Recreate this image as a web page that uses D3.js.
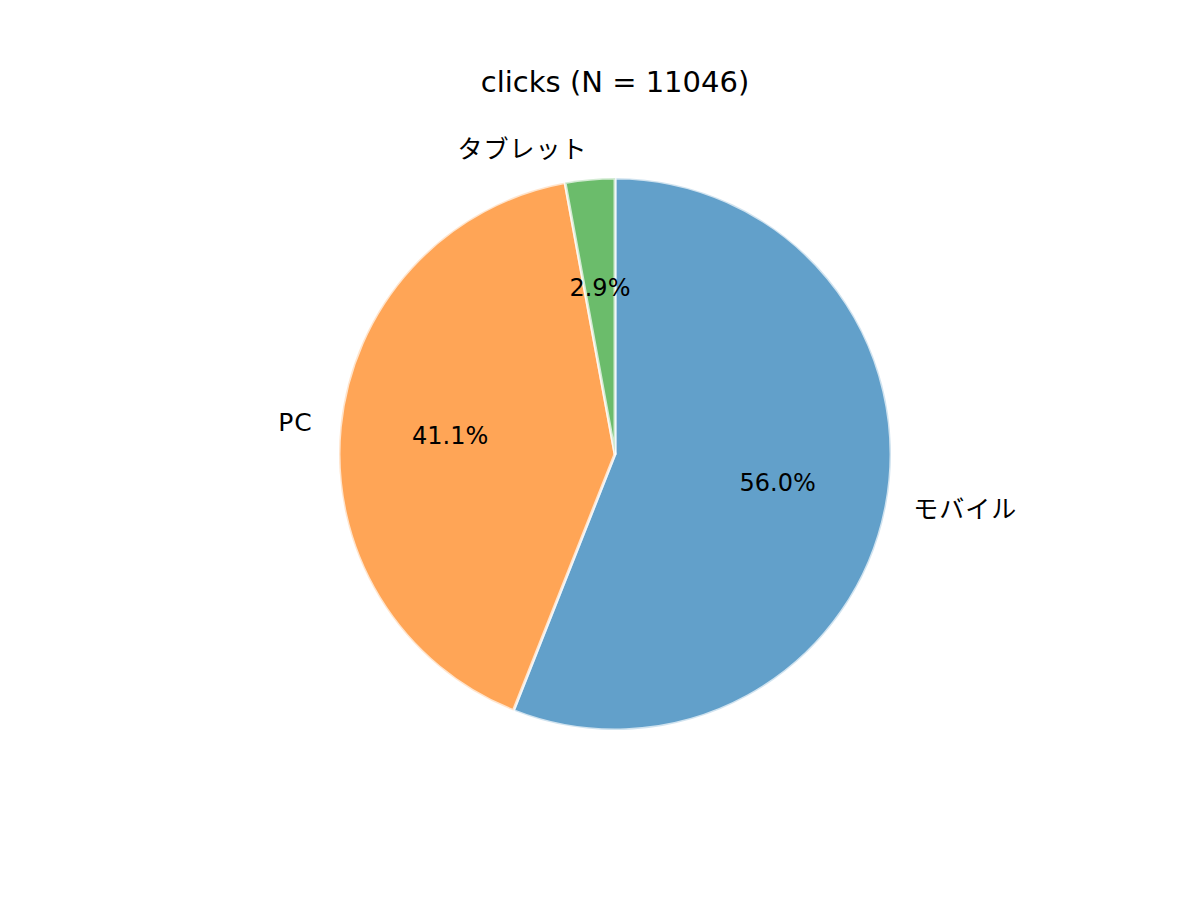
<!DOCTYPE html>
<html>
<head>
<meta charset="utf-8">
<script src="https://cdn.jsdelivr.net/npm/d3@7"></script>
<style>
  body { margin: 0; background: #fff; }
  text { font-family: "DejaVu Sans", "Noto Sans CJK JP", sans-serif; fill: #000; }
</style>
</head>
<body>
<div id="chart"></div>
<script>
var width = 1200;
var height = 900;

var labels = ['モバイル', 'PC', 'タブレット'];
var counts = [6186, 4540, 320];
var colors = ['#1f77b4', '#ff7f0e', '#2ca02c'];
var titleText = 'clicks (N = 11046)';

var cx = 615;
var cy = 454;
var radius = 276;

window.onload = function() {
    render();
};

function render() {
    var svg = d3.select('#chart').append('svg')
        .attr('width', width)
        .attr('height', height);

    var total = d3.sum(counts);
    var data = labels.map(function(d, i) {
        return { label: d, value: counts[i], color: colors[i] };
    });

    // clockwise from 12 o'clock, keeping input order
    var pie = d3.pie()
        .value(function(d) { return d.value; })
        .sort(null);
    var arcs = pie(data);

    var arc = d3.arc().innerRadius(0).outerRadius(radius);

    var g = svg.append('g')
        .attr('transform', 'translate(' + cx + ',' + cy + ')');

    g.selectAll('path.slice')
        .data(arcs)
        .enter().append('path')
        .attr('class', 'slice')
        .attr('d', arc)
        .attr('fill', function(d) { return d.data.color; })
        .attr('fill-opacity', 0.7)
        .attr('stroke', '#fff')
        .attr('stroke-opacity', 0.7)
        .attr('stroke-width', 3)
        .attr('stroke-linejoin', 'round');

    function midPoint(d, dist) {
        var a = (d.startAngle + d.endAngle) / 2;
        return [Math.sin(a) * radius * dist, -Math.cos(a) * radius * dist];
    }

    // category labels outside the pie
    g.selectAll('text.label')
        .data(arcs)
        .enter().append('text')
        .attr('class', 'label')
        .attr('x', function(d) { return midPoint(d, 1.1)[0]; })
        .attr('y', function(d) { return midPoint(d, 1.1)[1] - 2; })
        .attr('dy', '0.35em')
        .attr('text-anchor', function(d) { return midPoint(d, 1.1)[0] > 0 ? 'start' : 'end'; })
        .style('font-size', '25px')
        .style('letter-spacing', '1px')
        .text(function(d) { return d.data.label; });

    // percentages inside
    g.selectAll('text.pct')
        .data(arcs)
        .enter().append('text')
        .attr('class', 'pct')
        .attr('x', function(d) { return midPoint(d, 0.6)[0]; })
        .attr('y', function(d) { return midPoint(d, 0.6)[1] - 2; })
        .attr('dy', '0.35em')
        .attr('text-anchor', 'middle')
        .style('font-size', '24px')
        .text(function(d) { return (d.value / total * 100).toFixed(1) + '%'; });

    svg.append('text')
        .attr('x', cx)
        .attr('y', 82)
        .attr('dy', '0.35em')
        .attr('text-anchor', 'middle')
        .style('font-size', '29px')
        .text(titleText);
}
</script>
</body>
</html>
